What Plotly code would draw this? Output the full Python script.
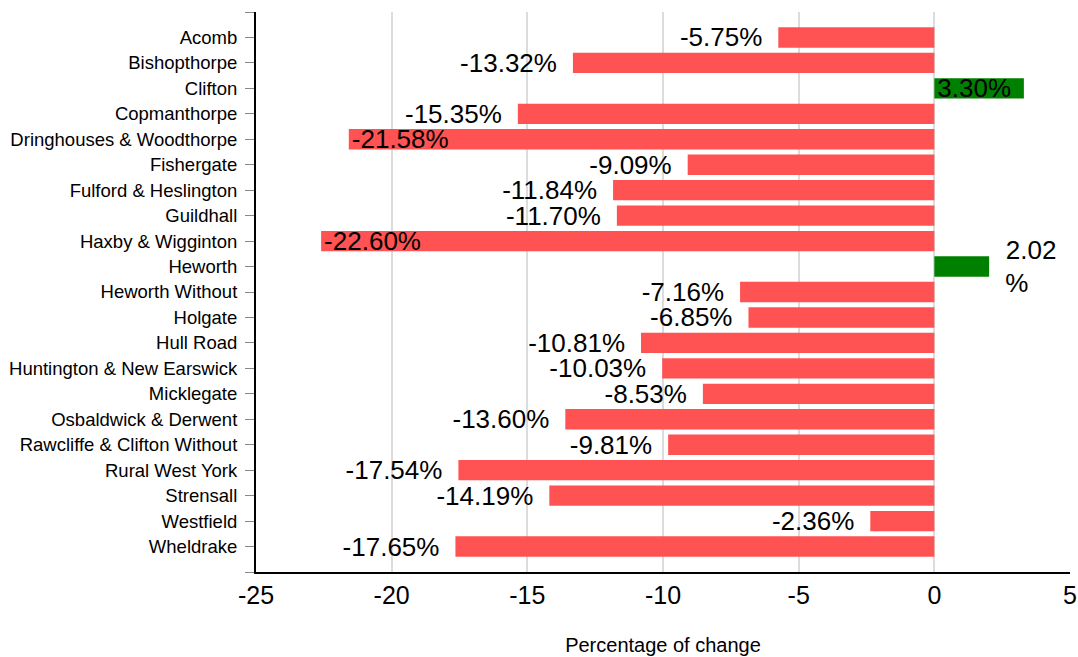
import plotly.graph_objects as go

wards = ["Acomb", "Bishopthorpe", "Clifton", "Copmanthorpe", "Dringhouses & Woodthorpe",
         "Fishergate", "Fulford & Heslington", "Guildhall", "Haxby & Wigginton", "Heworth",
         "Heworth Without", "Holgate", "Hull Road", "Huntington & New Earswick", "Micklegate",
         "Osbaldwick & Derwent", "Rawcliffe & Clifton Without", "Rural West York", "Strensall",
         "Westfield", "Wheldrake"]
change = [-5.75, -13.32, 3.30, -15.35, -21.58, -9.09, -11.84, -11.70, -22.60, 2.02,
          -7.16, -6.85, -10.81, -10.03, -8.53, -13.60, -9.81, -17.54, -14.19, -2.36, -17.65]
x_ticks = [-25, -20, -15, -10, -5, 0, 5]

FONT = "Liberation Sans, Arial, sans-serif"
idx = list(range(len(wards)))
GAP = "\u2002"


def label(v):
    if abs(v - 2.02) < 1e-9:
        return GAP + "2.02<br>" + GAP + "%" + "\u00a0" * 4
    if v > 3 or v < -20:
        return "%.2f%%" % v
    return "%.2f%%" % v + GAP


def pos(v):
    return "inside" if (v > 3 or v < -20) else "outside"


fig = go.Figure()
for sign, color, anchor in [(-1, "#ff5252", "end"), (1, "#008000", "start")]:
    sel = [i for i in idx if change[i] * sign > 0]
    fig.add_trace(go.Bar(
        x=[change[i] for i in sel], y=sel, orientation="h",
        marker=dict(color=color, line=dict(width=0)),
        width=0.8,
        text=[label(change[i]) for i in sel],
        textposition=[pos(change[i]) for i in sel],
        insidetextanchor=anchor,
        textfont=dict(family=FONT, size=26, color="black"),
        insidetextfont=dict(family=FONT, color="black", size=26),
        outsidetextfont=dict(family=FONT, color="black", size=26),
        constraintext="none", cliponaxis=False,
        hoverinfo="skip",
    ))

fig.update_layout(
    width=1078, height=657,
    margin=dict(l=256, r=8, t=12, b=85),
    plot_bgcolor="white", paper_bgcolor="white",
    showlegend=False, barmode="overlay",
    font=dict(family=FONT, color="black"),
    xaxis=dict(range=[-25, 5], tickmode="array", tickvals=x_ticks,
               ticktext=[str(t) for t in x_ticks],
               showgrid=True, gridcolor="#dcdcdc", gridwidth=2,
               zeroline=True, zerolinecolor="#dcdcdc", zerolinewidth=2,
               showline=True, linecolor="black", linewidth=2,
               tickfont=dict(size=25), ticks="", automargin=False,
               title=dict(text="Percentage of change", font=dict(size=20), standoff=30)),
    yaxis=dict(range=[21, -1], tickmode="array",
               tickvals=[-1] + idx + [21], ticktext=[""] + wards + [""],
               showgrid=False, zeroline=False, automargin=False,
               showline=True, linecolor="black", linewidth=2,
               ticks="outside", ticklen=9, tickcolor="#888888", tickwidth=1,
               ticklabelstandoff=4,
               tickfont=dict(size=18.5)),
)

fig.write_html("out.html", config={"displayModeBar": False},
               post_script="document.body.style.margin='0';document.body.style.overflow='hidden';")
